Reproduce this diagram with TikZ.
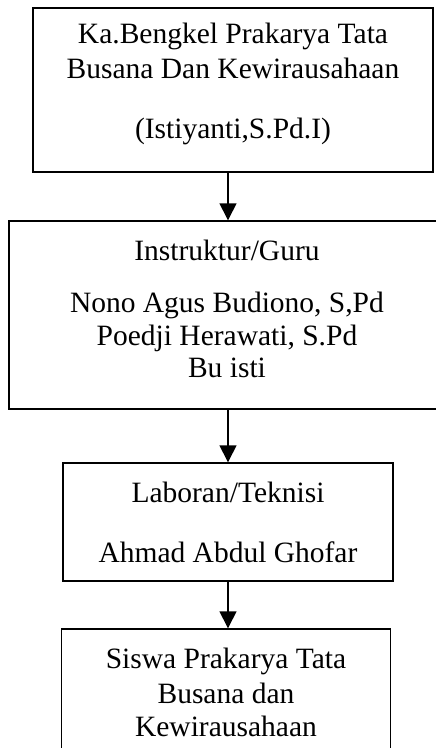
\documentclass[tikz,border=0pt]{standalone}
\usepackage{fontspec}
\setmainfont{Liberation Serif}
\usepackage{tikz}
\usetikzlibrary{arrows.meta}

\newcommand{\orgfont}{\fontsize{29.5}{35}\selectfont}
\tikzset{
    orgbox/.style = {draw = black, line width = 1.4pt, align = center, inner sep = 0pt, font = \orgfont},
    orgarrow/.style = {line width = 1.4pt, -{Triangle[width = 17pt, length = 17pt]}}
}

\begin{document}
\begin{tikzpicture}[x = 1pt, y = -1pt]
            \useasboundingbox (0, 0) rectangle (436, 748);
            \clip (0, 0) rectangle (436, 748);
            \node[orgbox, minimum width = 400pt, minimum height = 164pt] (kabeng) at (233, 90)
                {Ka.Bengkel Prakarya Tata\\ Busana Dan Kewirausahaan\\[25pt] (Istiyanti,S.Pd.I)\\[-17pt] \mbox{}};
            \node[orgbox, minimum width = 436pt, minimum height = 188pt] (guru) at (227, 315)
                {Instruktur/Guru\\[17pt] Nono Agus Budiono, S,Pd\\[-2pt] Poedji Herawati, S.Pd\\[-3pt] Bu isti\\[-23pt] \mbox{}};
            \node[orgbox, minimum width = 330pt, minimum height = 118pt] (teknisi) at (228, 522)
                {Laboran/Teknisi\\[25pt] Ahmad Abdul Ghofar};
            \node[orgbox, minimum width = 329pt, minimum height = 126pt] (siswa) at (226, 692)
                {Siswa Prakarya Tata\\ Busana dan\\[-2pt] Kewirausahaan};
            \draw[orgarrow] (kabeng.south -| teknisi.north) -- (guru.north -| teknisi.north);
            \draw[orgarrow] (guru.south -| teknisi.north) -- (teknisi.north);
            \draw[orgarrow] (teknisi.south) -- (siswa.north -| teknisi.south);
        \end{tikzpicture}
\end{document}
